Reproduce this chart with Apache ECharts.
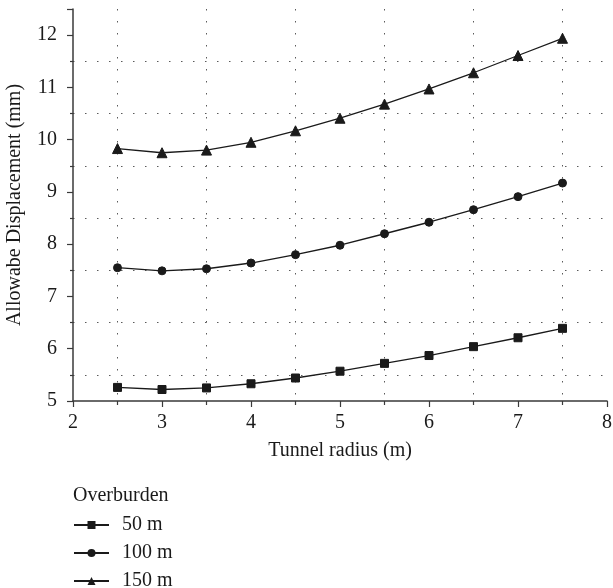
<!DOCTYPE html>
<html>
<head>
<meta charset="utf-8">
<script src="https://cdn.jsdelivr.net/npm/echarts@6/dist/echarts.min.js"></script>
<style>
  html, body { margin: 0; padding: 0; background: #fff; }
  #chart { width: 613px; height: 588px; }
</style>
</head>
<body>
<div id="chart"></div>
<script>
// Tunnel radius (m)
const radius = [2.5, 3, 3.5, 4, 4.5, 5, 5.5, 6, 6.5, 7, 7.5];
// Allowable displacement (mm) for each overburden depth
const disp50 = [5.26, 5.22, 5.25, 5.33, 5.44, 5.57, 5.72, 5.87, 6.04, 6.21, 6.39];
const disp100 = [7.55, 7.49, 7.53, 7.64, 7.80, 7.98, 8.20, 8.42, 8.66, 8.91, 9.17];
const disp150 = [9.83, 9.75, 9.80, 9.95, 10.17, 10.41, 10.68, 10.97, 11.28, 11.61, 11.94];
const seriesNames = ['50 m', '100 m', '150 m'];
const seriesSymbols = ['rect', 'circle', 'triangle'];

const FONT = '"Liberation Serif", "DejaVu Serif", serif';
const FS = 20;
const INK = '#1a1a1a';
const AXIS = '#3a3a3a';
const dotted = { color: '#5a5a5a', width: 1, type: [1.5, 10.5] };

function pairs(xs, ys) {
  return xs.map((x, i) => [x, ys[i]]);
}

const values = [disp50, disp100, disp150];
const symbolSizes = [8, 8, 10];

const chart = echarts.init(document.getElementById('chart'), null, { renderer: 'canvas' });

chart.setOption({
  backgroundColor: '#fff',
  animation: false,
  textStyle: { fontFamily: FONT },
  title: {
    text: 'Overburden',
    left: 73,
    top: 486,
    padding: 0,
    textStyle: { fontFamily: FONT, fontSize: FS, fontWeight: 'normal', color: INK }
  },
  legend: {
    orient: 'vertical',
    left: 73,
    top: 515,
    height: 100,
    padding: 0,
    itemWidth: 35,
    itemHeight: 10,
    itemGap: 8,
    data: seriesNames,
    textStyle: { fontFamily: FONT, fontSize: FS, color: INK, padding: [0, 0, 0, 8] }
  },
  grid: { left: 73, right: 6, top: 9, bottom: 187, containLabel: false, outerBoundsMode: 'none' },
  xAxis: {
    type: 'value',
    min: 2,
    max: 8,
    interval: 1,
    name: 'Tunnel radius (m)',
    nameLocation: 'middle',
    nameGap: 40,
    nameTextStyle: { fontFamily: FONT, fontSize: FS, color: INK },
    axisLine: { show: true, onZero: false, lineStyle: { color: AXIS, width: 1.5 } },
    axisTick: { show: true, inside: false, length: 6, lineStyle: { color: AXIS, width: 1.2 } },
    minorTick: { show: true, splitNumber: 2, length: 4, lineStyle: { color: AXIS, width: 1.2 } },
    splitLine: { show: false },
    minorSplitLine: { show: true, lineStyle: dotted },
    axisLabel: { fontFamily: FONT, fontSize: FS, color: INK, margin: 12 }
  },
  yAxis: {
    type: 'value',
    min: 5,
    max: 12.5,
    interval: 1,
    name: 'Allowabe Displacement (mm)',
    nameLocation: 'middle',
    nameGap: 48,
    nameTextStyle: { fontFamily: FONT, fontSize: FS, color: INK },
    axisLine: { show: true, onZero: false, lineStyle: { color: AXIS, width: 1.5 } },
    axisTick: { show: true, inside: false, length: 6, lineStyle: { color: AXIS, width: 1.2 } },
    minorTick: { show: true, splitNumber: 2, length: 3, lineStyle: { color: AXIS, width: 1.2 } },
    splitLine: { show: false },
    minorSplitLine: { show: true, lineStyle: dotted },
    axisLabel: {
      fontFamily: FONT, fontSize: FS, color: INK, margin: 16,
      showMaxLabel: false,
      formatter: v => (Number.isInteger(v) ? String(v) : '')
    }
  },
  series: seriesNames.map((name, i) => ({
    name: name,
    type: 'line',
    data: pairs(radius, values[i]),
    symbol: seriesSymbols[i],
    symbolSize: symbolSizes[i],
    showAllSymbol: true,
    lineStyle: { color: INK, width: 1.3 },
    itemStyle: { color: INK, borderColor: INK },
    emphasis: { disabled: true }
  }))
});
</script>
</body>
</html>
